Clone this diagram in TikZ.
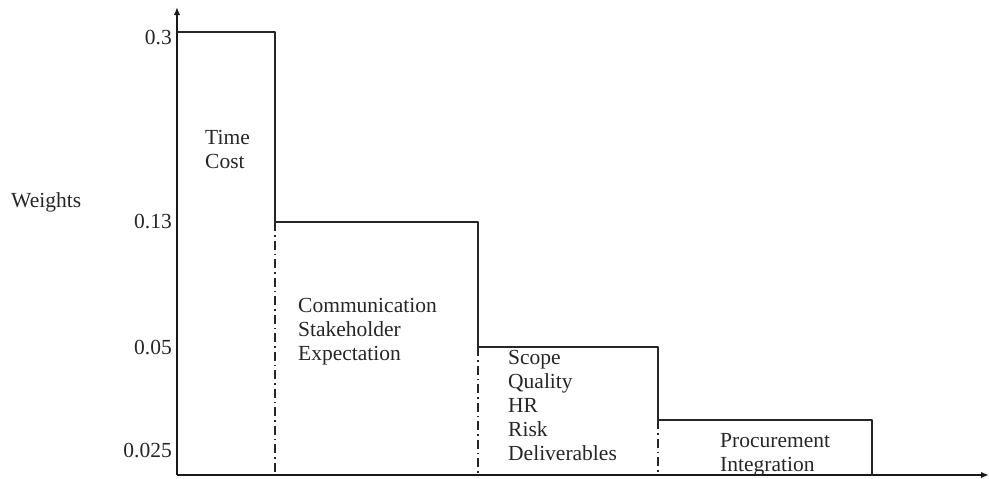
\documentclass[tikz,border=0pt]{standalone}
\usepackage{fontspec}
\setmainfont{Liberation Serif}
\usetikzlibrary{arrows.meta}
\begin{document}
\begin{tikzpicture}[x=1pt,y=-1pt,
  lbl/.style={inner sep=0pt,anchor=base west,font=\fontsize{21.5}{24}\selectfont,text=black!85},
  tick/.style={inner sep=0pt,anchor=base east,font=\fontsize{21.5}{24}\selectfont,text=black!85},
  axis/.style={line width=2.2pt,draw=black!90,-{Latex[length=8pt,width=6.5pt]}},
  stepline/.style={line width=2.6pt,draw=black!85,line join=round},
  divider/.style={line width=2pt,draw=black!85,dash pattern=on 9pt off 4pt on 1.5pt off 4pt}]
\useasboundingbox (0,0) rectangle (989,479);

% axes
\coordinate (O) at (177,475);
\coordinate (ytop) at (177,7);
\coordinate (xend) at (989,475);
\draw[axis] (O) -- (ytop);
\draw[axis] (O) -- (xend);

% step outline
\coordinate (s0) at (177,32);
\coordinate (s1) at (275,32);
\coordinate (s2) at (275,222);
\coordinate (s3) at (478,222);
\coordinate (s4) at (478,347);
\coordinate (s5) at (658,347);
\coordinate (s6) at (658,420);
\coordinate (s7) at (872,420);
\coordinate (s8) at (872,475);
\draw[stepline] (s0) -- (s1) -- (s2) -- (s3) -- (s4) -- (s5) -- (s6) -- (s7) -- (s8);

% dash-dot dividers down to the x axis
\coordinate (b1) at (275,475);
\coordinate (b2) at (478,475);
\coordinate (b3) at (658,475);
\draw[divider] (s2) -- (b1);
\draw[divider] (s4) -- (b2);
\draw[divider] (s6) -- (b3);

% y-axis values
\node[tick] (t1) at (172,45) {0.3};
\node[tick] (t2) at (172,228) {0.13};
\node[tick] (t3) at (172,354) {0.05};
\node[tick] (t4) at (172,457) {0.025};
\node[lbl] (yl) at (11,207) {Weights};

% group labels
\node[lbl] (a1) at (205,144) {Time};
\node[lbl] (a2) at (205,168) {Cost};

\node[lbl] (c1) at (298,312) {Communication};
\node[lbl] (c2) at (298,336) {Stakeholder};
\node[lbl] (c3) at (298,360) {Expectation};

\node[lbl] (d1) at (508,364) {Scope};
\node[lbl] (d2) at (508,388) {Quality};
\node[lbl] (d3) at (508,412) {HR};
\node[lbl] (d4) at (508,436) {Risk};
\node[lbl] (d5) at (508,460) {Deliverables};

\node[lbl] (e1) at (720,447) {Procurement};
\node[lbl] (e2) at (720,471) {Integration};
\end{tikzpicture}
\end{document}
